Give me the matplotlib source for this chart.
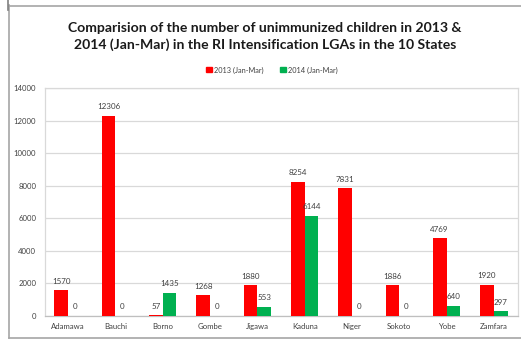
import matplotlib
matplotlib.use("Agg")
import matplotlib.pyplot as plt
import numpy as np
from matplotlib.patches import Rectangle
from matplotlib.lines import Line2D

states = ["Adamawa", "Bauchi", "Borno", "Gombe", "Jigawa", "Kaduna", "Niger", "Sokoto", "Yobe", "Zamfara"]
v2013 = [1570, 12306, 57, 1268, 1880, 8254, 7831, 1886, 4769, 1920]
v2014 = [0, 0, 1435, 0, 553, 6144, 0, 0, 640, 297]
yticks = [0, 2000, 4000, 6000, 8000, 10000, 12000, 14000]
series_names = ["2013 (Jan-Mar)", "2014 (Jan-Mar)"]

plt.rcParams['font.family'] = ['Lato', 'DejaVu Sans']

W, H = 521, 346
fig = plt.figure(figsize=(W/100, H/100), dpi=100)
ax = fig.add_axes([44.5/W, 1-316/H, (517.5-44.5)/W, (316-88)/H])

x = np.arange(len(states))
bw = 0.29
red = "#FF0000"
green = "#00B050"
b1 = ax.bar(x - bw/2, v2013, bw, color=red, zorder=3)
b2 = ax.bar(x + bw/2, v2014, bw, color=green, zorder=3)

for rects, vals in ((b1, v2013), (b2, v2014)):
    for r, v in zip(rects, vals):
        ax.annotate(str(v), (r.get_x() + r.get_width()/2, v), xytext=(0, 4),
                    textcoords="offset points", ha="center", va="bottom",
                    fontsize=5.8, color="#404040")

ax.set_xlim(-0.5, len(states) - 0.5)
ax.set_ylim(0, 14000)
ax.set_yticks(yticks)
ax.set_yticklabels([str(t) for t in yticks])
ax.set_xticks(x)
ax.set_xticklabels(states)
ax.tick_params(axis="both", length=0, labelsize=5.6, labelcolor="#404040")
ax.tick_params(axis="y", pad=6)
ax.tick_params(axis="x", pad=5)
ax.grid(axis="y", color="#D9D9D9", linewidth=0.9, zorder=0)
for s in ax.spines.values():
    s.set_color("#D9D9D9")
    s.set_linewidth(0.9)
ax.spines["bottom"].set_color("#BFBFBF")

fig.text(265/W, 1-36.5/H, "Comparision of the number of unimmunized children in 2013 &\n2014 (Jan-Mar) in the RI Intensification LGAs in the 10 States",
         ha="center", va="center", fontsize=10.1, fontweight="bold", color="#1a1a1a", linespacing=1.4)

handles = [Rectangle((0, 0), 1, 1, color=red), Rectangle((0, 0), 1, 1, color=green)]
fig.legend(handles, series_names, loc="center", bbox_to_anchor=(272/W, 1-70/H), ncol=2,
           frameon=False, fontsize=5.3, handlelength=0.7, handleheight=0.7, handletextpad=0.3,
           columnspacing=2.3, labelcolor="#404040")

# outer frame
fig.add_artist(Line2D([9/W, 9/W], [1-5/H, 1-338/H], color="#A6A6A6", lw=1.2))
fig.add_artist(Line2D([9/W, 1], [1-6/H, 1-6/H], color="#A6A6A6", lw=1.2))
fig.add_artist(Line2D([9/W, 1], [1-338/H, 1-338/H], color="#A6A6A6", lw=1.2))
fig.add_artist(Line2D([8/W, 8/W], [1, 1-10/H], color="#808080", lw=1.2))

fig.savefig("out.png", dpi=100)
